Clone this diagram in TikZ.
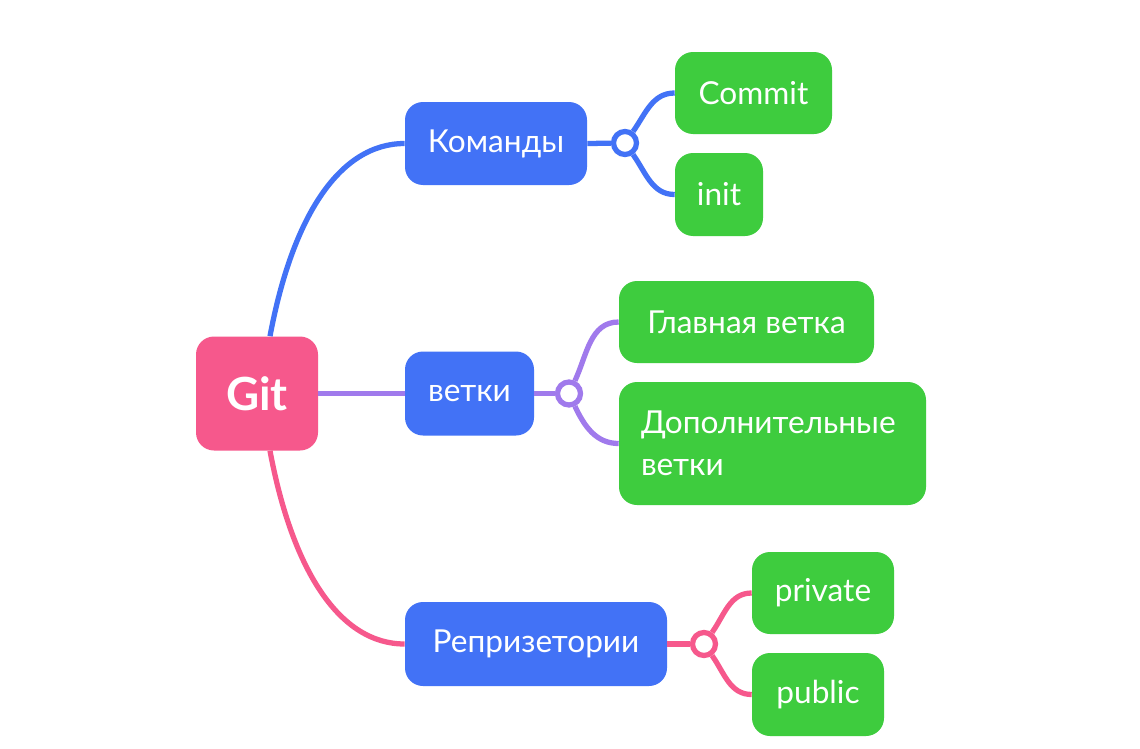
\documentclass[tikz,border=0pt]{standalone}
\usepackage{fontspec}
\setmainfont{Lato}
\usetikzlibrary{calc}
\definecolor{gitpink}{RGB}{246,88,140}
\definecolor{topicblue}{RGB}{66,114,246}
\definecolor{leafgreen}{RGB}{62,204,62}
\definecolor{branchpurple}{RGB}{160,122,236}

\begin{document}
\begin{tikzpicture}[
box/.style = {rectangle, rounded corners=0.36cm, text=white, inner sep=0pt,
	font=\fontsize{18}{24}\selectfont},
topic/.style = {box, fill=topicblue},
leaf/.style = {box, fill=leafgreen},
hub/.style = {circle, draw=#1, fill=white, line width=3pt, minimum size=0.46cm, inner sep=0pt},
link/.style = {line width=3pt, draw=#1}
]
\useasboundingbox[fill=white] (0, 0) rectangle (22.8, -14.98);

\node[box, fill=gitpink, minimum width=2.44cm, minimum height=2.28cm,
	font=\fontsize{26}{30}\selectfont\bfseries] (git) at (5.14, -7.87) {Git};

\node[topic, minimum width=3.64cm, minimum height=1.66cm] (cmd) at (9.92, -2.87) {Команды};
\node[topic, minimum width=2.58cm, minimum height=1.68cm] (br) at (9.39, -7.87) {ветки};
\node[topic, minimum width=5.24cm, minimum height=1.68cm] (rep) at (10.72, -12.88) {Репризетории};

\node[leaf, minimum width=3.14cm, minimum height=1.64cm] (commit) at (15.07, -1.86) {Commit};
\node[leaf, minimum width=1.76cm, minimum height=1.66cm] (init) at (14.38, -3.89) {init};
\node[leaf, minimum width=5.10cm, minimum height=1.64cm] (main) at (14.93, -6.44) {Главная ветка};
\node[leaf, minimum width=6.14cm, minimum height=2.46cm, align=left, text width=5.26cm]
	(extra) at (15.45, -8.87) {Дополнительные\\ветки};
\node[leaf, minimum width=2.84cm, minimum height=1.64cm] (private) at (16.46, -11.86) {private};
\node[leaf, minimum width=2.64cm, minimum height=1.66cm] (public) at (16.36, -13.89) {public};

\node[hub=topicblue] (cmdhub) at (12.5, -2.86) {};
\node[hub=branchpurple] (brhub) at (11.38, -7.87) {};
\node[hub=gitpink] (rephub) at (14.08, -12.88) {};

% main branches
\draw[link=topicblue] ([xshift=0.26cm]git.north) .. controls +(0.45, 2.4) and +(-1.3, 0) .. (cmd.west);
\draw[link=branchpurple] (git.east) -- (br.west);
\draw[link=gitpink] ([xshift=0.26cm]git.south) .. controls +(0.45, -2.4) and +(-1.3, 0) .. (rep.west);

% sub branches
\draw[link=topicblue] (cmd.east) -- (cmdhub);
\draw[link=topicblue] (cmdhub) to[out=55, in=180] (commit.west);
\draw[link=topicblue] (cmdhub) to[out=-55, in=180] (init.west);
\draw[link=branchpurple] (br.east) -- (brhub);
\draw[link=branchpurple] (brhub) to[out=65, in=180] (main.west);
\draw[link=branchpurple] (brhub) to[out=-65, in=180] (extra.west);
\draw[link=gitpink] (rep.east) -- (rephub);
\draw[link=gitpink] (rephub) to[out=55, in=180] (private.west);
\draw[link=gitpink] (rephub) to[out=-55, in=180] (public.west);
\end{tikzpicture}
\end{document}
